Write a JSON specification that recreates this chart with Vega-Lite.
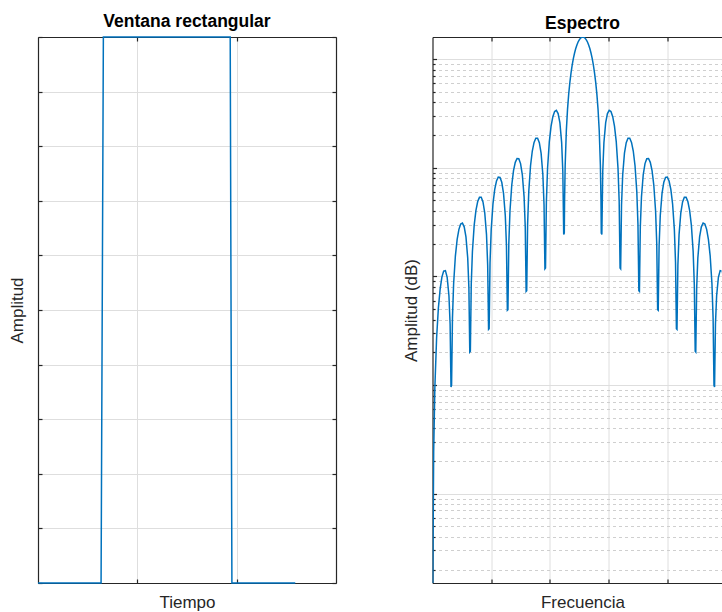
{
  "$schema": "https://vega.github.io/schema/vega-lite/v6.json",
  "background": "white",
  "padding": {"left": 8, "top": 12, "right": 0, "bottom": 0},
  "bounds": "flush",
  "spacing": 96.5,
  "config": {
    "font": "Liberation Sans",
    "view": {"stroke": null},
    "axis": {
      "labels": false,
      "domain": true,
      "domainColor": "#262626",
      "domainWidth": 1.2,
      "ticks": true,
      "tickColor": "#262626",
      "tickWidth": 1.2,
      "tickSize": -4,
      "minExtent": 0,
      "grid": false,
      "gridColor": "#dedede",
      "gridWidth": 1,
      "titleFont": "Liberation Sans",
      "titleFontSize": 17,
      "titleFontWeight": "normal",
      "titleColor": "#262626",
      "titlePadding": 11
    },
    "title": {
      "font": "Liberation Sans",
      "fontSize": 17.5,
      "fontWeight": "bold",
      "color": "#000000",
      "offset": 4,
      "baseline": "alphabetic"
    }
  },
  "datasets": {
    "ventana": [
      {"t": 0, "amp": 0},
      {"t": 0.635, "amp": 0},
      {"t": 0.658, "amp": 1},
      {"t": 1.935, "amp": 1},
      {"t": 1.952, "amp": 0},
      {"t": 2.59, "amp": 0}
    ],
    "espectro": [
      {"f": 0.5, "mag": 0.0001505}, {"f": 2, "mag": 0.002394}, {"f": 4, "mag": 0.009394}, {"f": 7, "mag": 0.027264}, {"f": 10, "mag": 0.051082}, {"f": 13, "mag": 0.076495}, {"f": 16, "mag": 0.098491}, {"f": 19, "mag": 0.11207}, {"f": 22, "mag": 0.11293}, {"f": 25, "mag": 0.098084}, {"f": 28, "mag": 0.0664}, {"f": 30, "mag": 0.036321}, {"f": 31.5, "mag": 0.009604},
      {"f": 32.5, "mag": 0.009917}, {"f": 34, "mag": 0.0413}, {"f": 36, "mag": 0.08593}, {"f": 39, "mag": 0.15477}, {"f": 42, "mag": 0.21915}, {"f": 45, "mag": 0.27115}, {"f": 48, "mag": 0.30334}, {"f": 51, "mag": 0.30962}, {"f": 54, "mag": 0.28605}, {"f": 57, "mag": 0.23139}, {"f": 60, "mag": 0.14762}, {"f": 62, "mag": 0.07802}, {"f": 63.5, "mag": 0.02015},
      {"f": 64.5, "mag": 0.0205}, {"f": 66, "mag": 0.08363}, {"f": 68, "mag": 0.16963}, {"f": 71, "mag": 0.2953}, {"f": 74, "mag": 0.40582}, {"f": 77, "mag": 0.48906}, {"f": 80, "mag": 0.53451}, {"f": 83, "mag": 0.53438}, {"f": 86, "mag": 0.4846}, {"f": 89, "mag": 0.38555}, {"f": 92, "mag": 0.24233}, {"f": 94, "mag": 0.12692}, {"f": 95.5, "mag": 0.03257},
      {"f": 96.5, "mag": 0.03301}, {"f": 98, "mag": 0.13385}, {"f": 100, "mag": 0.26951}, {"f": 103, "mag": 0.46449}, {"f": 106, "mag": 0.63263}, {"f": 109, "mag": 0.75629}, {"f": 112, "mag": 0.82068}, {"f": 115, "mag": 0.81528}, {"f": 118, "mag": 0.73521}, {"f": 121, "mag": 0.5821}, {"f": 124, "mag": 0.36434}, {"f": 126, "mag": 0.19036}, {"f": 127.5, "mag": 0.04877},
      {"f": 128.5, "mag": 0.04937}, {"f": 130, "mag": 0.1999}, {"f": 132, "mag": 0.4019}, {"f": 135, "mag": 0.6914}, {"f": 138, "mag": 0.9403}, {"f": 141, "mag": 1.1232}, {"f": 144, "mag": 1.2185}, {"f": 147, "mag": 1.2108}, {"f": 150, "mag": 1.0928}, {"f": 153, "mag": 0.8664}, {"f": 156, "mag": 0.5434}, {"f": 158, "mag": 0.2844}, {"f": 159.5, "mag": 0.07295},
      {"f": 160.5, "mag": 0.07393}, {"f": 162, "mag": 0.2999}, {"f": 164, "mag": 0.6043}, {"f": 167, "mag": 1.0438}, {"f": 170, "mag": 1.4266}, {"f": 173, "mag": 1.7136}, {"f": 176, "mag": 1.8709}, {"f": 179, "mag": 1.8724}, {"f": 182, "mag": 1.7036}, {"f": 185, "mag": 1.3629}, {"f": 188, "mag": 0.8633}, {"f": 190, "mag": 0.4551}, {"f": 191.5, "mag": 0.11745},
      {"f": 192.5, "mag": 0.1195}, {"f": 194, "mag": 0.4878}, {"f": 196, "mag": 0.9921}, {"f": 199, "mag": 1.7393}, {"f": 202, "mag": 2.4169}, {"f": 205, "mag": 2.9576}, {"f": 208, "mag": 3.2967}, {"f": 211, "mag": 3.3773}, {"f": 214, "mag": 3.1547}, {"f": 217, "mag": 2.6002}, {"f": 220, "mag": 1.7042}, {"f": 222, "mag": 0.9215}, {"f": 223.5, "mag": 0.2428},
      {"f": 224.5, "mag": 0.2507}, {"f": 225, "mag": 0.509}, {"f": 226, "mag": 1.048}, {"f": 228, "mag": 2.205}, {"f": 230, "mag": 3.453}, {"f": 232, "mag": 4.767}, {"f": 234, "mag": 6.122}, {"f": 236, "mag": 7.491}, {"f": 238, "mag": 8.844}, {"f": 240, "mag": 10.153}, {"f": 242, "mag": 11.389}, {"f": 244, "mag": 12.525}, {"f": 246, "mag": 13.534}, {"f": 248, "mag": 14.394}, {"f": 250, "mag": 15.084}, {"f": 252, "mag": 15.588}, {"f": 254, "mag": 15.896},
      {"f": 256, "mag": 16},
      {"f": 258, "mag": 15.896}, {"f": 260, "mag": 15.588}, {"f": 262, "mag": 15.084}, {"f": 264, "mag": 14.394}, {"f": 266, "mag": 13.534}, {"f": 268, "mag": 12.525}, {"f": 270, "mag": 11.389}, {"f": 272, "mag": 10.153}, {"f": 274, "mag": 8.844}, {"f": 276, "mag": 7.491}, {"f": 278, "mag": 6.122}, {"f": 280, "mag": 4.767}, {"f": 282, "mag": 3.453}, {"f": 284, "mag": 2.205}, {"f": 286, "mag": 1.048}, {"f": 287, "mag": 0.509}, {"f": 287.5, "mag": 0.2507},
      {"f": 288.5, "mag": 0.2428}, {"f": 290, "mag": 0.9215}, {"f": 292, "mag": 1.7042}, {"f": 295, "mag": 2.6002}, {"f": 298, "mag": 3.1547}, {"f": 301, "mag": 3.3773}, {"f": 304, "mag": 3.2967}, {"f": 307, "mag": 2.9576}, {"f": 310, "mag": 2.4169}, {"f": 313, "mag": 1.7393}, {"f": 316, "mag": 0.9921}, {"f": 318, "mag": 0.4878}, {"f": 319.5, "mag": 0.1195},
      {"f": 320.5, "mag": 0.11745}, {"f": 322, "mag": 0.4551}, {"f": 324, "mag": 0.8633}, {"f": 327, "mag": 1.3629}, {"f": 330, "mag": 1.7036}, {"f": 333, "mag": 1.8724}, {"f": 336, "mag": 1.8709}, {"f": 339, "mag": 1.7136}, {"f": 342, "mag": 1.4266}, {"f": 345, "mag": 1.0438}, {"f": 348, "mag": 0.6043}, {"f": 350, "mag": 0.2999}, {"f": 351.5, "mag": 0.07393},
      {"f": 352.5, "mag": 0.07295}, {"f": 354, "mag": 0.2844}, {"f": 356, "mag": 0.5434}, {"f": 359, "mag": 0.8664}, {"f": 362, "mag": 1.0928}, {"f": 365, "mag": 1.2108}, {"f": 368, "mag": 1.2185}, {"f": 371, "mag": 1.1232}, {"f": 374, "mag": 0.9403}, {"f": 377, "mag": 0.6914}, {"f": 380, "mag": 0.4019}, {"f": 382, "mag": 0.1999}, {"f": 383.5, "mag": 0.04937},
      {"f": 384.5, "mag": 0.04877}, {"f": 386, "mag": 0.19036}, {"f": 388, "mag": 0.36434}, {"f": 391, "mag": 0.5821}, {"f": 394, "mag": 0.73521}, {"f": 397, "mag": 0.81528}, {"f": 400, "mag": 0.82068}, {"f": 403, "mag": 0.75629}, {"f": 406, "mag": 0.63263}, {"f": 409, "mag": 0.46449}, {"f": 412, "mag": 0.26951}, {"f": 414, "mag": 0.13385}, {"f": 415.5, "mag": 0.03301},
      {"f": 416.5, "mag": 0.03257}, {"f": 418, "mag": 0.12692}, {"f": 420, "mag": 0.24233}, {"f": 423, "mag": 0.38555}, {"f": 426, "mag": 0.4846}, {"f": 429, "mag": 0.53438}, {"f": 432, "mag": 0.53451}, {"f": 435, "mag": 0.48906}, {"f": 438, "mag": 0.40582}, {"f": 441, "mag": 0.2953}, {"f": 444, "mag": 0.16963}, {"f": 446, "mag": 0.08363}, {"f": 447.5, "mag": 0.0205},
      {"f": 448.5, "mag": 0.02015}, {"f": 450, "mag": 0.07802}, {"f": 452, "mag": 0.14762}, {"f": 455, "mag": 0.23139}, {"f": 458, "mag": 0.28605}, {"f": 461, "mag": 0.30962}, {"f": 464, "mag": 0.30334}, {"f": 467, "mag": 0.27115}, {"f": 470, "mag": 0.21915}, {"f": 473, "mag": 0.15477}, {"f": 476, "mag": 0.08593}, {"f": 478, "mag": 0.0413}, {"f": 479.5, "mag": 0.009917},
      {"f": 480.5, "mag": 0.009604}, {"f": 482, "mag": 0.036321}, {"f": 484, "mag": 0.0664}, {"f": 487, "mag": 0.098084}, {"f": 490, "mag": 0.11293}, {"f": 493, "mag": 0.11207}, {"f": 496, "mag": 0.098491}, {"f": 499, "mag": 0.076495}, {"f": 502, "mag": 0.051082}, {"f": 505, "mag": 0.027264}, {"f": 508, "mag": 0.009394}, {"f": 510, "mag": 0.002394}, {"f": 511.5, "mag": 0.0001505}
    ]
  },
  "hconcat": [
    {
      "width": 298,
      "height": 546,
      "title": "Ventana rectangular",
      "data": {"name": "ventana"},
      "layer": [
        {
          "mark": {"type": "line", "color": "#0072BD", "strokeWidth": 1.5},
          "encoding": {
            "x": {
              "field": "t", "type": "quantitative",
              "scale": {"domain": [0, 3], "nice": false, "zero": false},
              "axis": {"orient": "bottom", "title": "Tiempo", "values": [1, 2], "grid": true}
            },
            "y": {
              "field": "amp", "type": "quantitative",
              "scale": {"domain": [0, 1], "nice": false},
              "axis": {"orient": "left", "title": "Amplitud", "values": [0, 0.1, 0.2, 0.3, 0.4, 0.5, 0.6, 0.7, 0.8, 0.9, 1], "grid": true}
            }
          }
        },
        {
          "mark": {"type": "line", "opacity": 0},
          "encoding": {
            "x": {
              "field": "t", "type": "quantitative",
              "scale": {"domain": [0, 3], "nice": false, "zero": false},
              "axis": {"orient": "top", "title": null, "values": [1, 2]}
            },
            "y": {
              "field": "amp", "type": "quantitative",
              "scale": {"domain": [0, 1], "nice": false},
              "axis": {"orient": "right", "title": null, "values": [0, 0.1, 0.2, 0.3, 0.4, 0.5, 0.6, 0.7, 0.8, 0.9, 1]}
            }
          }
        }
      ],
      "resolve": {"axis": {"x": "independent", "y": "independent"}}
    },
    {
      "width": 289,
      "height": 546,
      "title": {"text": "Espectro", "dx": 5.5},
      "data": {"name": "espectro"},
      "layer": [
        {
          "mark": {"type": "line", "color": "#0072BD", "strokeWidth": 1.5, "clip": true},
          "encoding": {
            "x": {
              "field": "f", "type": "quantitative",
              "scale": {"domain": [0, 492.3], "nice": false, "zero": false},
              "axis": {"orient": "bottom", "title": "Frecuencia", "titleX": 150, "values": [100, 200, 300, 400], "grid": true}
            },
            "y": {
              "field": "mag", "type": "quantitative",
              "scale": {"type": "log", "domain": [0.0001505, 16], "nice": false},
              "axis": {"orient": "left", "title": "Amplitud (dB)", "values": [0.001, 0.01, 0.1, 1, 10], "grid": true}
            }
          }
        },
        {
          "mark": {"type": "line", "opacity": 0, "clip": true},
          "encoding": {
            "x": {
              "field": "f", "type": "quantitative",
              "scale": {"domain": [0, 492.3], "nice": false, "zero": false},
              "axis": {"orient": "top", "title": null, "values": [100, 200, 300, 400]}
            },
            "y": {
              "field": "mag", "type": "quantitative",
              "scale": {"type": "log", "domain": [0.0001505, 16], "nice": false},
              "axis": {
                "orient": "left", "title": null, "domain": false, "tickSize": -2.5,
                "grid": true, "gridDash": [3, 3], "gridColor": "#cfcfcf",
                "values": [0.0002, 0.0003, 0.0004, 0.0005, 0.0006, 0.0007, 0.0008, 0.0009,
                           0.002, 0.003, 0.004, 0.005, 0.006, 0.007, 0.008, 0.009,
                           0.02, 0.03, 0.04, 0.05, 0.06, 0.07, 0.08, 0.09,
                           0.2, 0.3, 0.4, 0.5, 0.6, 0.7, 0.8, 0.9,
                           2, 3, 4, 5, 6, 7, 8, 9]
              }
            }
          }
        }
      ],
      "resolve": {"axis": {"x": "independent", "y": "independent"}}
    }
  ]
}
